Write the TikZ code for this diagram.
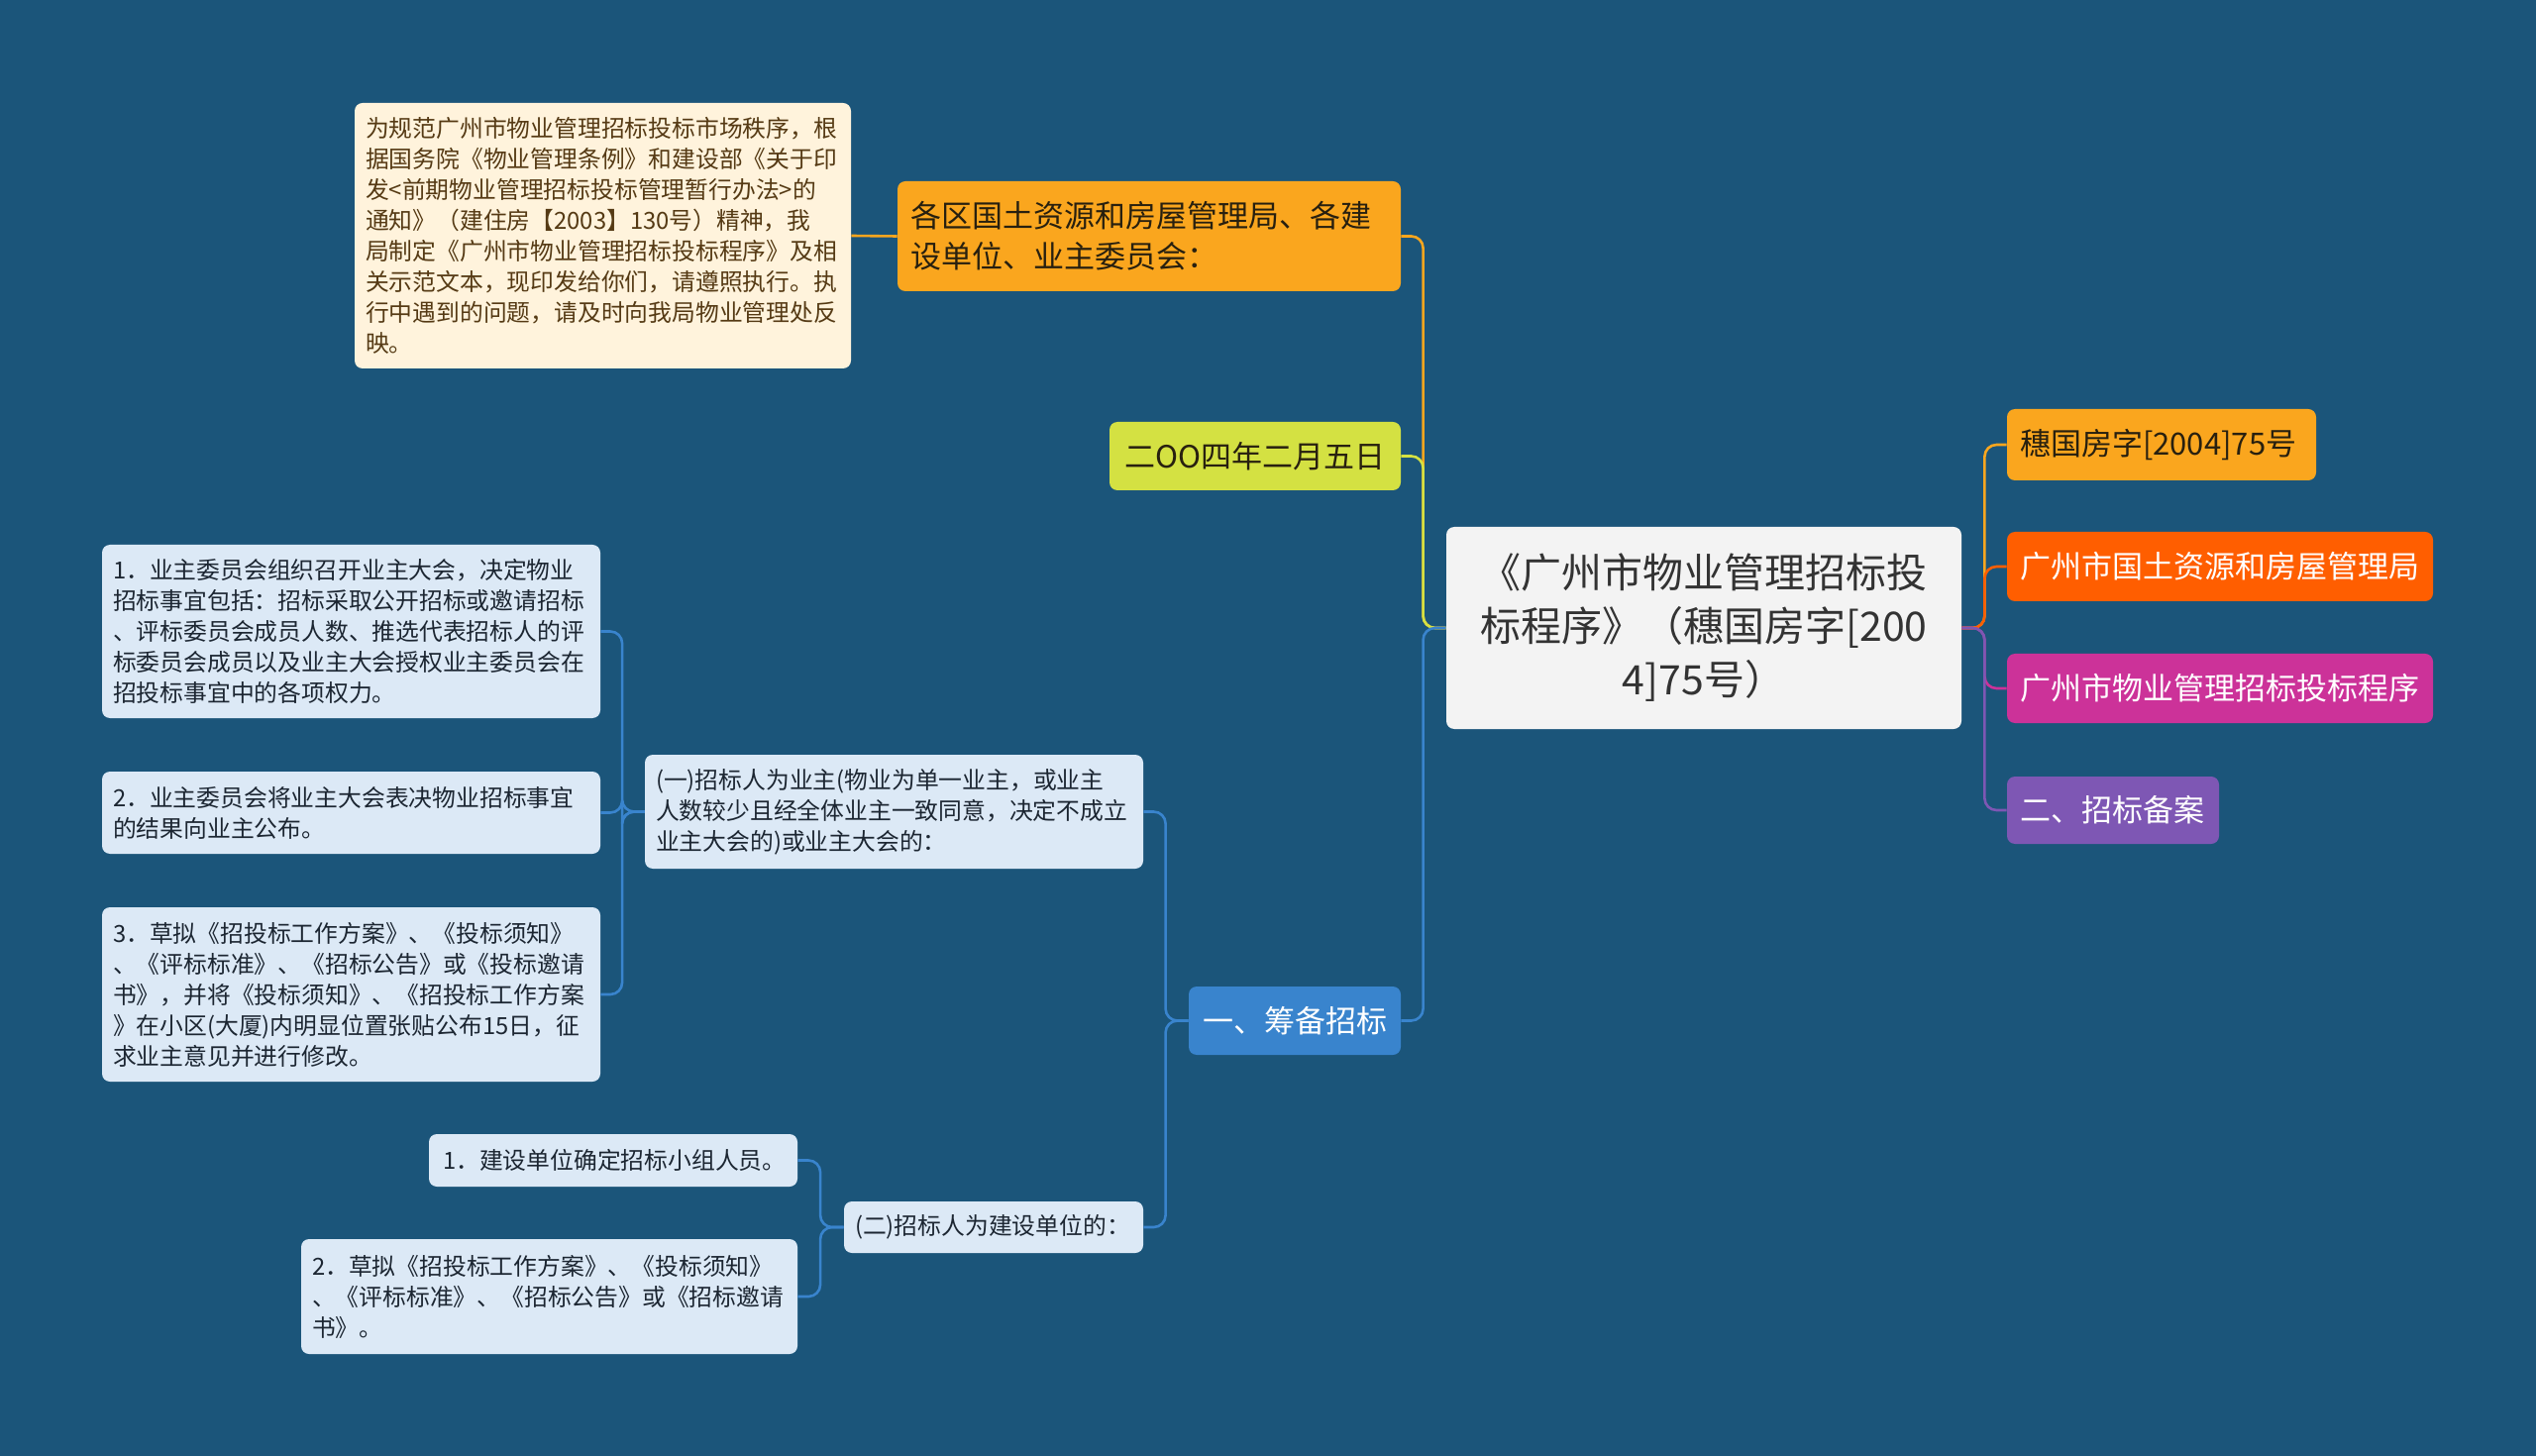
\documentclass[tikz,border=0pt]{standalone}
\usepackage{fontspec}
\setmainfont{Noto Sans CJK SC}
\definecolor{bg}{RGB}{27,85,122}
\definecolor{rootfill}{RGB}{243,243,243}
\definecolor{roottext}{RGB}{51,51,51}
\definecolor{cOrange}{RGB}{250,166,30}
\definecolor{cLime}{RGB}{212,225,66}
\definecolor{cBlue}{RGB}{57,132,205}
\definecolor{cLight}{RGB}{220,233,246}
\definecolor{cCream}{RGB}{255,243,220}
\definecolor{cCreamText}{RGB}{85,58,20}
\definecolor{cRed}{RGB}{255,94,0}
\definecolor{cMag}{RGB}{204,50,153}
\definecolor{cPurple}{RGB}{126,87,180}
\definecolor{darktext}{RGB}{40,32,15}
\definecolor{itemtext}{RGB}{28,38,50}
\tikzset{
  base/.style={rectangle, rounded corners=4pt, inner ysep=0pt},
  bigfont/.style={font=\fontsize{15.5}{20.4}\selectfont},
  smallfont/.style={font=\fontsize{11.9}{15.5}\selectfont},
  rootbox/.style={base, fill=rootfill, text=roottext, align=center, inner xsep=8pt,
    font=\fontsize{20.5}{27}\selectfont},
  orangebox/.style={base, bigfont, fill=cOrange, text=darktext, align=left, inner xsep=6.5pt},
  creambox/.style={base, smallfont, fill=cCream, text=cCreamText, align=left, inner xsep=5.5pt},
  itembox/.style={base, smallfont, fill=cLight, text=itemtext, align=left, inner xsep=5.5pt},
  conn/.style={line width=1.3pt, rounded corners=6pt},
}
\begin{document}
\begin{tikzpicture}[x=0.5pt,y=-0.5pt]
\useasboundingbox (0,0) rectangle (2560,1470);
\fill[bg] (0,0) rectangle (2560,1470);

% root
\node[rootbox, text width=244pt, minimum height=102pt] (root) at (1720,634)
  {《广州市物业管理招标投\\标程序》（穗国房字[200\\4]75号）};

% left main branches
\node[orangebox, text width=241pt, minimum height=55.5pt] (top) at (1160,238.5)
  {各区国土资源和房屋管理局、各建\\设单位、业主委员会：};
\node[base, bigfont, fill=cLime, text=darktext, align=center, text width=135pt, inner xsep=6pt, minimum height=34.5pt] (date) at (1267,460.5)
  {二OO四年二月五日};
\node[base, bigfont, fill=cBlue, text=white, align=center, text width=95pt, inner xsep=6pt, minimum height=34.5pt] (prep) at (1307,1030.5)
  {一、筹备招标};

\node[creambox, text width=239.5pt, minimum height=134pt] (intro) at (608.5,238)
  {为规范广州市物业管理招标投标市场秩序，根\\
   据国务院《物业管理条例》和建设部《关于印\\
   发<前期物业管理招标投标管理暂行办法>的\\
   通知》（建住房【2003】130号）精神，我\\
   局制定《广州市物业管理招标投标程序》及相\\
   关示范文本，现印发给你们，请遵照执行。执\\
   行中遇到的问题，请及时向我局物业管理处反\\
   映。};

% (一)
\node[itembox, text width=240.5pt, minimum height=57.5pt] (g1) at (902.5,819.5)
  {(一)招标人为业主(物业为单一业主，或业主\\
   人数较少且经全体业主一致同意，决定不成立\\
   业主大会的)或业主大会的：};
\node[itembox, text width=240.5pt, minimum height=87.5pt] (i1) at (354.5,637.5)
  {1．业主委员会组织召开业主大会，决定物业\\
   招标事宜包括：招标采取公开招标或邀请招标\\
   、评标委员会成员人数、推选代表招标人的评\\
   标委员会成员以及业主大会授权业主委员会在\\
   招投标事宜中的各项权力。};
\node[itembox, text width=240.5pt, minimum height=41.5pt] (i2) at (354.5,820.5)
  {2．业主委员会将业主大会表决物业招标事宜\\
   的结果向业主公布。};
\node[itembox, text width=240.5pt, minimum height=88pt] (i3) at (354.5,1004)
  {3．草拟《招投标工作方案》、《投标须知》\\
   、《评标标准》、《招标公告》或《投标邀请\\
   书》，并将《投标须知》、《招投标工作方案\\
   》在小区(大厦)内明显位置张贴公布15日，征\\
   求业主意见并进行修改。};

% (二)
\node[itembox, text width=140pt, minimum height=26pt] (g2) at (1003,1239)
  {(二)招标人为建设单位的：};
\node[itembox, text width=172pt, inner xsep=7pt, minimum height=26.5pt] (j1) at (619,1171.5)
  {1．建设单位确定招标小组人员。};
\node[itembox, text width=239.5pt, minimum height=58pt] (j2) at (554.5,1309)
  {2．草拟《招投标工作方案》、《投标须知》\\
   、《评标标准》、《招标公告》或《招标邀请\\
   书》。};

% right branches
\node[orangebox, text width=143pt, minimum height=36pt] (r1) at (2182,449)
  {穗国房字[2004]75号};
\node[base, bigfont, fill=cRed, text=white, align=left, text width=202pt, inner xsep=6.5pt, minimum height=35pt] (r2) at (2241,572)
  {广州市国土资源和房屋管理局};
\node[base, bigfont, fill=cMag, text=white, align=left, text width=202pt, inner xsep=6.5pt, minimum height=35pt] (r3) at (2241,695)
  {广州市物业管理招标投标程序};
\node[base, bigfont, fill=cPurple, text=white, align=left, text width=94pt, inner xsep=6.5pt, minimum height=34pt] (r4) at (2133,818)
  {二、招标备案};

% connectors (left)
\draw[conn, cOrange] (root.west) -- ++(-23,0) |- (top.east);
\draw[conn, cLime] (root.west) -- ++(-23,0) |- (date.east);
\draw[conn, cBlue] (root.west) -- ++(-23,0) |- (prep.east);
\draw[conn, cOrange] (top.west) -- (intro.east);

\draw[conn, cBlue] (prep.west) -- ++(-23,0) |- (g1.east);
\draw[conn, cBlue] (prep.west) -- ++(-23,0) |- (g2.east);

\draw[conn, cBlue] (g1.west) -- ++(-22.5,0) |- (i1.east);
\draw[conn, cBlue] (g1.west) -- ++(-22.5,0) |- (i2.east);
\draw[conn, cBlue] (g1.west) -- ++(-22.5,0) |- (i3.east);

\draw[conn, cBlue] (g2.west) -- ++(-23.5,0) |- (j1.east);
\draw[conn, cBlue] (g2.west) -- ++(-23.5,0) |- (j2.east);

% connectors (right)
\draw[conn, cOrange] (root.east) -- ++(23,0) |- (r1.west);
\draw[conn, cRed] (root.east) -- ++(23,0) |- (r2.west);
\draw[conn, cMag] (root.east) -- ++(23,0) |- (r3.west);
\draw[conn, cPurple] (root.east) -- ++(23,0) |- (r4.west);
\end{tikzpicture}
\end{document}
